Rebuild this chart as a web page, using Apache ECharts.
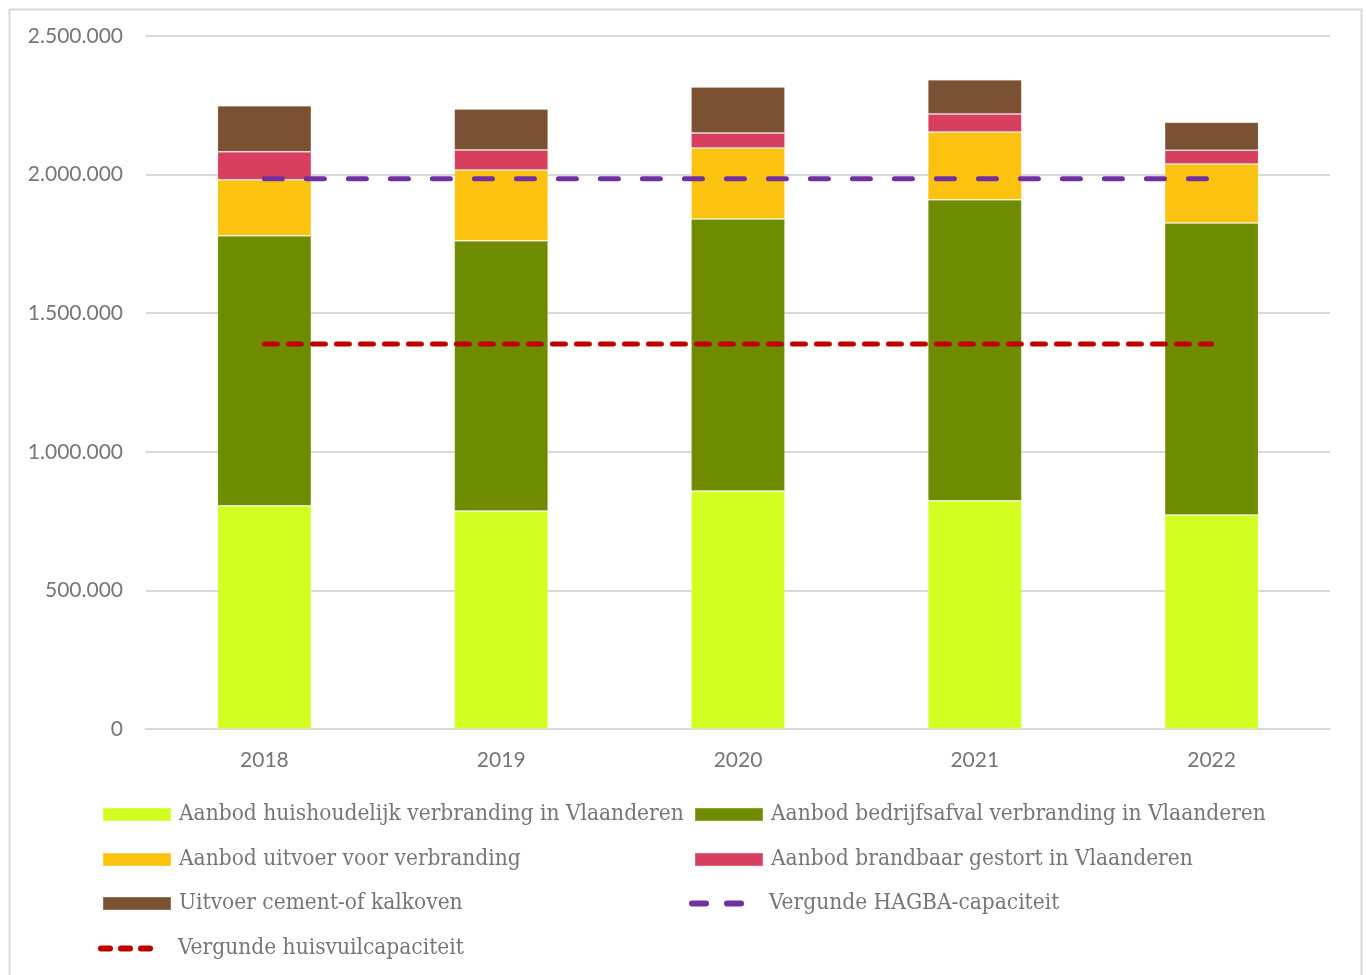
<!DOCTYPE html>
<html>
<head>
<meta charset="utf-8">
<script src="https://cdn.jsdelivr.net/npm/echarts@6/dist/echarts.min.js"></script>
<style>
html,body{margin:0;padding:0;background:#fff;}
#chart{width:1366px;height:975px;}
</style>
</head>
<body>
<div id="chart"></div>
<script>
const years = ['2018', '2019', '2020', '2021', '2022'];
const huishoudelijk = [805000, 786000, 859000, 823000, 772000];
const bedrijfsafval = [974000, 975000, 981000, 1086000, 1053000];
const uitvoerVerbranding = [202000, 256000, 256000, 245000, 213000];
const brandbaarGestort = [101000, 72000, 54000, 65000, 50000];
const cementKalkoven = [166000, 148000, 166000, 123000, 101000];
const hagbaCapaciteit = [1985000, 1985000, 1985000, 1985000, 1985000];
const huisvuilCapaciteit = [1389000, 1389000, 1389000, 1389000, 1389000];
const yTicks = [0, 500000, 1000000, 1500000, 2000000, 2500000];

const names = [
  'Aanbod huishoudelijk verbranding in Vlaanderen',
  'Aanbod bedrijfsafval verbranding in Vlaanderen',
  'Aanbod uitvoer voor verbranding',
  'Aanbod brandbaar gestort in Vlaanderen',
  'Uitvoer cement-of kalkoven',
  'Vergunde HAGBA-capaciteit',
  'Vergunde huisvuilcapaciteit'
];
const colors = ['#D2FF21', '#6F8C00', '#FBC20F', '#D63F5E', '#7A5133', '#7030A0', '#C00000'];
const barData = [huishoudelijk, bedrijfsafval, uitvoerVerbranding, brandbaarGestort, cementKalkoven];

const legendFont = "'DejaVu Serif Condensed', 'DejaVu Serif', serif";
const axisFont = "Lato, 'Open Sans', sans-serif";

// capsule-shaped dash icons for the line legends
const purpleIcon = 'path://M3,0h14a3,3 0 0 1 0,6h-14a3,3 0 0 1 0,-6zM38,0h14a3,3 0 0 1 0,6h-14a3,3 0 0 1 0,-6z';
const redIcon = 'path://M3,0h9a3,3 0 0 1 0,6h-9a3,3 0 0 1 0,-6zM23,0h9a3,3 0 0 1 0,6h-9a3,3 0 0 1 0,-6zM43,0h9a3,3 0 0 1 0,6h-9a3,3 0 0 1 0,-6z';

const legendPos = [
  [102, 813], [694, 813],
  [102, 858], [694, 858],
  [102, 902], [689, 902],
  [98, 947]
];

const legends = names.map((n, i) => {
  const isLine = i >= 5;
  const lg = {
    data: [{ name: n, icon: isLine ? (i === 5 ? purpleIcon : redIcon) : 'rect' }],
    left: legendPos[i][0],
    top: legendPos[i][1] - 10,
    padding: 0,
    itemWidth: isLine ? 55 : 68,
    itemHeight: isLine ? 6 : 13,
    itemGap: 0,
    selectedMode: false,
    textStyle: {
      fontFamily: legendFont, fontSize: 22.5, lineHeight: 22, color: '#767676',
      padding: [0, 0, 0, isLine ? 20 : 3]
    }
  };
  if (isLine) lg.itemStyle = { color: colors[i], borderWidth: 0 };
  return lg;
});

const series = barData.map((d, i) => ({
  name: names[i],
  type: 'bar',
  stack: 'total',
  barWidth: 94,
  data: d,
  itemStyle: { color: colors[i], borderColor: 'rgba(255,255,255,0.2)', borderWidth: 1 },
  emphasis: { disabled: true }
}));
series.push({
  name: names[5], type: 'line', data: hagbaCapaciteit, symbol: 'none',
  lineStyle: { color: colors[5], width: 5, type: [18, 24], cap: 'round' },
  itemStyle: { color: colors[5] }, z: 5
});
series.push({
  name: names[6], type: 'line', data: huisvuilCapaciteit, symbol: 'none',
  lineStyle: { color: colors[6], width: 5, type: [13, 11], cap: 'round' },
  itemStyle: { color: colors[6] }, z: 5
});

const chart = echarts.init(document.getElementById('chart'), null, { renderer: 'canvas' });
chart.setOption({
  backgroundColor: '#fff',
  animation: false,
  graphic: [{
    type: 'rect', left: 7, top: 7, shape: { width: 1352, height: 980 },
    style: { fill: 'none', stroke: '#D9D9D9', lineWidth: 2 }, silent: true
  }],
  grid: { left: 146, top: 36, width: 1184, height: 693 },
  legend: legends,
  xAxis: {
    type: 'category', data: years,
    axisLine: { lineStyle: { color: '#D9D9D9', width: 2 } },
    axisTick: { show: false },
    axisLabel: { fontFamily: axisFont, fontSize: 21, color: '#767676', margin: 21 }
  },
  yAxis: {
    type: 'value', min: yTicks[0], max: yTicks[yTicks.length - 1], interval: 500000,
    axisLine: { show: false }, axisTick: { show: false },
    splitLine: { lineStyle: { color: '#D9D9D9', width: 2 } },
    axisLabel: {
      fontFamily: axisFont, fontSize: 21, color: '#767676', margin: 23,
      formatter: v => v.toString().replace(/\B(?=(\d{3})+(?!\d))/g, '.')
    }
  },
  series: series
});
</script>
</body>
</html>
